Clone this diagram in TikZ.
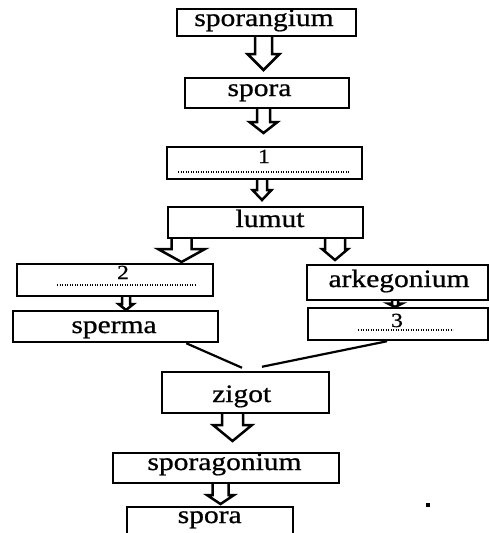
\documentclass[tikz,border=0pt]{standalone}
\usepackage{fontspec}
\setmainfont{Liberation Serif}[FakeStretch=1.18, FakeBold=0.8]
\usetikzlibrary{calc}
\tikzset{
  box/.style={draw, line width=2.5pt, inner sep=0pt, minimum width=#1},
  box/.default=100pt,
  word/.style={inner sep=0pt, anchor=base, font=\fontsize{25}{28}\selectfont},
  digit/.style={inner sep=0pt, anchor=base, font=\fontsize{20}{22}\selectfont},
  dotline/.style={line width=1.5pt, dash pattern=on 1.3pt off 1.2pt},
  blockarrow/.style={draw, line width=2.5pt, line join=miter, fill=white},
  link/.style={line width=2.2pt}
}
% #1 centre x, #2 top y, #3 head base y, #4 tip y, #5 shaft half width, #6 head half width
\newcommand\barrow[6]{%
  \draw[blockarrow] ({#1-#5},#2) -- ({#1-#5},#3) -- ({#1-#6},#3) -- (#1,#4)
     -- ({#1+#6},#3) -- ({#1+#5},#3) -- ({#1+#5},#2);}
\begin{document}
\begin{tikzpicture}[x=1pt,y=-1pt]
\clip (0,0) rectangle (489,533);
\fill[white] (0,0) rectangle (489,533);

% boxes
\node[box=179pt, minimum height=27pt] (sporangium) at (266.5,22.5) {};
\node[box=164pt, minimum height=30pt] (spora) at (267,93) {};
\node[box=195pt, minimum height=32pt] (b1) at (264.5,163) {};
\node[box=195pt, minimum height=31pt] (lumut) at (265.5,222.5) {};
\node[box=196pt, minimum height=32pt] (b2) at (115,280) {};
\node[box=205pt, minimum height=31pt] (sperma) at (115.5,326.5) {};
\node[box=181pt, minimum height=35pt] (arkegonium) at (397.5,282.5) {};
\node[box=180pt, minimum height=32pt] (b3) at (398,324) {};
\node[box=167pt, minimum height=41pt] (zigot) at (245.5,392.5) {};
\node[box=226pt, minimum height=30pt] (sporagonium) at (226,468) {};
\node[box=166pt, minimum height=50pt] (spora2) at (210,532) {};

% texts
\node[word] (tsporangium) at (264,26) {sporangium};
\node[word] (tspora) at (259.5,96) {spora};
\node[digit] (t1) at (264,163) {1};
\node[word] (tlumut) at (270,227) {lumut};
\node[digit] (t2) at (123,279) {2};
\node[word] (tsperma) at (114,333) {sperma};
\node[word] (tarkegonium) at (399,287) {arkegonium};
\node[digit] (t3) at (397,327) {3};
\node[word] (tzigot) at (241.7,402) {zigot};
\node[word] (tsporagonium) at (224.5,470) {sporagonium};
\node[word] (tspora2) at (209.7,523) {spora};

% dotted blanks
\draw[dotline] (178,172) -- (350,172);
\draw[dotline] (57,285) -- (195,285);
\draw[dotline] (358,330) -- (453,330);

% block arrows
\barrow{263.5}{37}{54}{70}{8.5}{16}
\barrow{263.5}{109}{122}{133}{6.5}{14}
\barrow{262}{180}{190}{200}{5}{9.5}
\barrow{181.5}{239}{249}{262}{10}{23.5}
\barrow{335}{239}{249}{260}{10}{13}
\barrow{126}{297}{304}{310}{4}{7.5}
\barrow{395}{301}{303.5}{307}{3}{7}
\barrow{232.5}{414}{425}{441}{10.5}{19.5}
\barrow{220.5}{484}{495}{504}{8}{13.5}

% connecting lines to zigot
\draw[link] ($(sperma.south east)+(-33,0)$) -- ($(zigot.north)+(-3.5,-3)$);
\draw[link] ($(b3.south)+(-11,0)$) -- ($(zigot.north)+(16.5,-4)$);

% stray dot
\node[fill=black, minimum size=4pt, inner sep=0pt] (dot) at (428,505) {};
\end{tikzpicture}
\end{document}
